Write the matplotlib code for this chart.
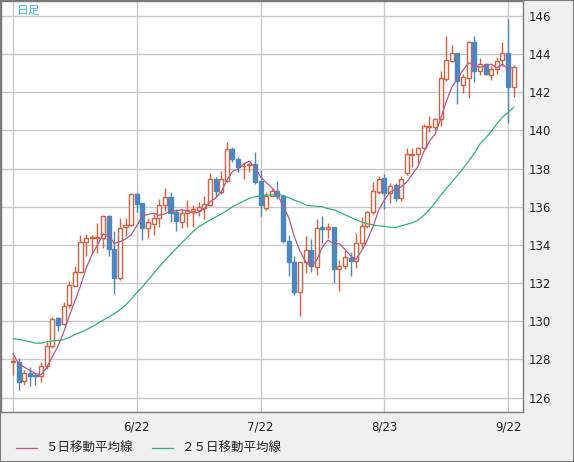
import numpy as np
import pandas as pd
import matplotlib
matplotlib.use('Agg')
import matplotlib.pyplot as plt
from matplotlib.lines import Line2D
from matplotlib.patches import Rectangle

plt.rcParams['font.family'] = ['Noto Sans CJK JP', 'DejaVu Sans']

# daily candles (oldest first)
open_ = [127.87, 127.84, 126.85, 127.30, 127.18, 127.13, 127.65, 128.68, 130.15, 129.84,
         130.83, 131.87, 132.58, 134.16, 134.34, 134.34, 134.37, 135.54, 133.81, 132.25,
         134.95, 135.04, 136.65, 136.18, 134.88, 135.10, 135.42, 136.10, 136.53, 135.74,
         135.19, 135.70, 135.79, 135.84, 135.95, 136.09, 137.46, 136.80, 137.37, 139.02,
         138.49, 138.12, 138.18, 138.25, 137.35, 135.96, 136.58, 136.84, 136.54, 134.19,
         133.09, 131.51, 133.11, 133.72, 132.84, 134.96, 134.86, 134.96, 132.74, 132.90,
         133.33, 133.16, 134.09, 135.00, 135.72, 136.79, 137.53, 136.74, 137.16, 136.47,
         137.75, 138.73, 138.75, 139.08, 140.19, 140.16, 140.60, 142.70, 143.66, 144.05,
         142.40, 142.75, 144.63, 143.10, 143.48, 142.92, 143.22, 143.70, 144.05, 142.28]
high = [128.10, 128.05, 127.42, 127.60, 127.30, 127.85, 128.90, 130.20, 130.24, 131.00,
        132.10, 132.87, 134.50, 134.55, 134.50, 135.14, 135.56, 135.56, 134.72, 135.42,
        135.42, 136.70, 136.70, 136.21, 135.42, 135.60, 136.42, 137.00, 136.80, 135.86,
        135.86, 136.37, 136.07, 136.25, 136.55, 137.77, 137.54, 137.86, 139.42, 139.14,
        138.60, 138.37, 138.32, 138.86, 137.93, 136.75, 136.96, 137.37, 136.61, 134.53,
        133.44, 133.09, 134.46, 134.33, 135.38, 135.50, 135.16, 134.96, 133.21, 133.72,
        133.61, 134.61, 135.44, 135.79, 137.30, 137.61, 137.70, 137.26, 137.26, 137.61,
        139.07, 139.08, 139.13, 140.35, 140.75, 140.68, 143.10, 144.96, 144.47, 144.05,
        142.97, 144.70, 144.97, 143.80, 143.53, 143.36, 143.83, 144.63, 145.87, 143.44]
low = [127.20, 126.37, 126.64, 126.60, 126.65, 126.80, 127.50, 128.60, 129.50, 129.79,
       130.70, 131.83, 132.53, 133.40, 133.59, 133.59, 133.84, 133.44, 131.44, 132.18,
       134.46, 134.98, 135.72, 134.25, 134.35, 134.53, 134.93, 135.77, 135.21, 134.72,
       134.89, 134.95, 134.95, 135.51, 135.35, 136.04, 136.49, 136.65, 137.32, 138.37,
       137.84, 137.46, 137.84, 137.20, 135.54, 135.82, 136.56, 136.40, 134.11, 132.35,
       131.39, 130.25, 132.51, 132.60, 132.44, 134.10, 134.37, 132.00, 131.58, 132.74,
       132.39, 132.81, 133.82, 134.88, 135.60, 136.65, 135.86, 136.21, 136.30, 136.28,
       137.67, 138.09, 138.30, 139.05, 139.90, 140.05, 140.26, 142.61, 143.58, 141.40,
       141.97, 141.70, 142.54, 142.92, 142.89, 142.66, 142.97, 143.36, 140.38, 141.74]
close = [127.92, 126.80, 127.28, 127.11, 127.13, 127.65, 128.68, 130.14, 129.82, 130.80,
         131.92, 132.58, 134.14, 134.37, 134.41, 134.39, 135.54, 133.79, 132.25, 134.89,
         135.07, 136.65, 136.16, 134.88, 135.21, 135.42, 136.10, 136.53, 135.68, 135.23,
         135.68, 135.84, 135.86, 135.98, 136.12, 137.46, 136.84, 137.46, 139.02, 138.49,
         138.09, 138.16, 138.25, 137.30, 136.07, 136.58, 136.84, 136.54, 134.19, 133.11,
         131.51, 133.09, 133.72, 132.88, 134.89, 134.84, 134.95, 132.74, 132.90, 133.37,
         133.16, 134.11, 135.00, 135.72, 136.84, 137.47, 136.74, 137.09, 136.46, 137.47,
         138.78, 138.78, 139.08, 140.26, 140.26, 140.60, 142.75, 143.69, 144.05, 142.57,
         142.80, 144.63, 143.10, 143.48, 142.96, 143.22, 143.67, 144.05, 142.26, 143.32]
# closes of the 4 days before the window (needed for the first 5-day averages)
prev_close = [129.45, 128.13, 128.01, 127.96]

# 25-day average as drawn on the chart
ma25 = [129.08, 129.05, 129.00, 128.92, 128.85, 128.85, 128.92, 128.97, 129.00, 129.03,
        129.15, 129.30, 129.42, 129.55, 129.70, 129.88, 130.05, 130.22, 130.40, 130.60,
        130.85, 131.15, 131.50, 131.80, 132.15, 132.50, 132.85, 133.20, 133.50, 133.80,
        134.10, 134.40, 134.70, 134.95, 135.12, 135.30, 135.46, 135.62, 135.80, 136.00,
        136.15, 136.30, 136.44, 136.52, 136.58, 136.61, 136.62, 136.62, 136.60, 136.48,
        136.35, 136.25, 136.10, 136.05, 136.03, 136.00, 135.90, 135.85, 135.72, 135.58,
        135.45, 135.32, 135.20, 135.10, 135.05, 135.00, 134.97, 134.93, 134.92, 135.00,
        135.08, 135.17, 135.30, 135.55, 135.85, 136.20, 136.60, 136.95, 137.30, 137.65,
        138.00, 138.40, 138.80, 139.30, 139.60, 139.95, 140.35, 140.70, 140.95, 141.22]

tick_pos = [0, 22, 44, 66, 88]
tick_labels = ['', '6/22', '7/22', '8/23', '9/22']

up_c = '#d9603f'
dn_c = '#4b88c0'
ma5_c = '#b5578a'
ma25_c = '#2fb27a'

o = np.array(open_)
h = np.array(high)
l = np.array(low)
c = np.array(close)
x = np.arange(len(c))
ma5 = pd.Series(prev_close + close).rolling(5).mean().to_numpy()[len(prev_close):]

fig = plt.figure(figsize=(5.74, 4.62), dpi=100, facecolor='#f0f0f0')
ax = fig.add_axes([1/574, 1 - 412/462, 522/574, 411/462])
ax.set_facecolor('white')

up = c >= o
ax.vlines(x[up], l[up], h[up], colors=up_c, linewidth=1, zorder=2)
ax.vlines(x[~up], l[~up], h[~up], colors=dn_c, linewidth=1, zorder=2)
ax.bar(x[up], (c - o)[up], bottom=o[up], width=0.72, facecolor='white',
       edgecolor=up_c, linewidth=1, zorder=3)
ax.bar(x[~up], (o - c)[~up], bottom=c[~up], width=0.72, facecolor=dn_c,
       edgecolor=dn_c, linewidth=1, zorder=3)

ax.plot(x, ma25, color=ma25_c, lw=0.9, zorder=4)
ax.plot(x, ma5, color=ma5_c, lw=0.9, zorder=4)

ax.set_xlim(-2.13, 90.65)
ax.set_ylim(125.24, 146.79)
ax.set_yticks(range(126, 147, 2))
ax.set_xticks(tick_pos)
ax.set_xticklabels(tick_labels)
ax.grid(True, color='#c8c8c8', lw=1, zorder=0)
ax.set_axisbelow(True)
ax.yaxis.tick_right()
ax.tick_params(axis='y', length=0, pad=4, labelsize=8.5, labelcolor='#222222')
ax.tick_params(axis='x', length=0, pad=6, labelsize=8.5, labelcolor='#222222')
for lab in ax.get_xticklabels() + ax.get_yticklabels():
    lab.set_family('DejaVu Sans')
for s in ax.spines.values():
    s.set_color('#7a7a7a')
    s.set_linewidth(1)

fig.text(17/574, 1 - 10/462, '日足', color='#3cb9ec', fontsize=8.5, va='center')

ly = 1 - 448/462
fig.add_artist(Line2D([16/574, 37/574], [ly, ly], transform=fig.transFigure, color=ma5_c, lw=0.9))
fig.text(45/574, ly, '５日移動平均線', fontsize=9, va='center', color='#222222')
fig.add_artist(Line2D([152/574, 173/574], [ly, ly], transform=fig.transFigure, color=ma25_c, lw=0.9))
fig.text(181/574, ly, '２５日移動平均線', fontsize=9, va='center', color='#222222')

fig.add_artist(Rectangle((0, 0), 1, 1, transform=fig.transFigure, fill=False,
                         edgecolor='#7a7a7a', lw=1.5))

fig.savefig('out.png', dpi=100, facecolor=fig.get_facecolor())
